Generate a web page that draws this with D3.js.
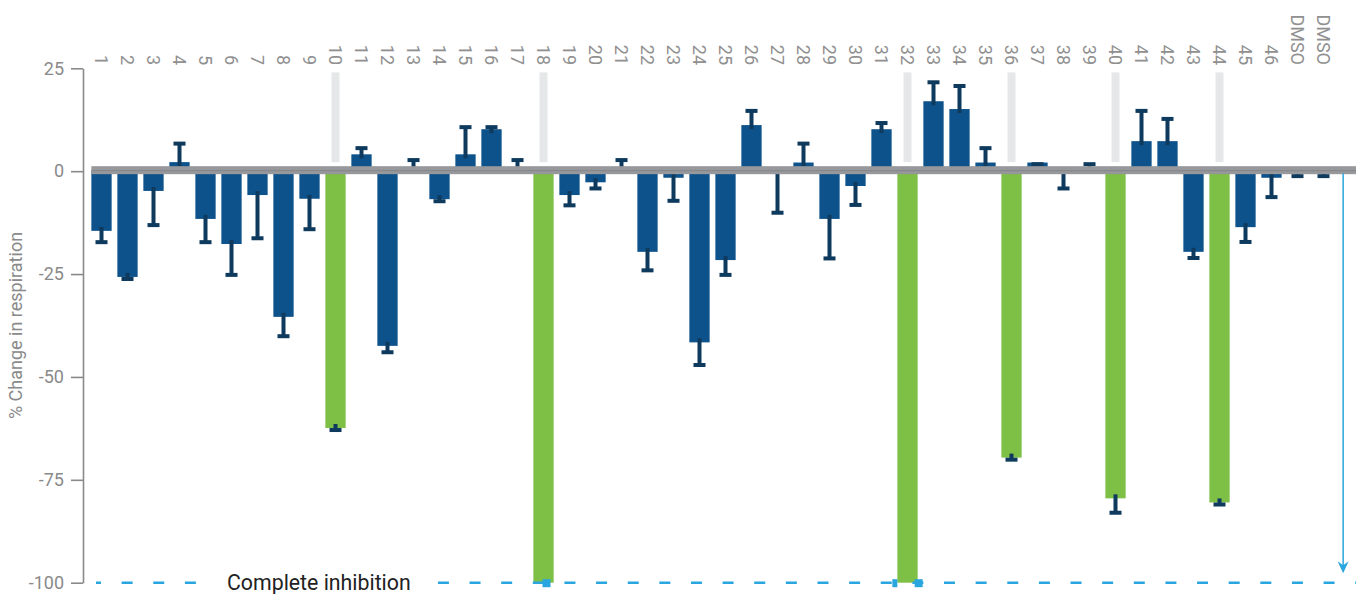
<!DOCTYPE html>
<html>
<head>
<meta charset="utf-8">
<script src="https://cdn.jsdelivr.net/npm/d3@7"></script>
<style>
  body { margin: 0; background: #fff; }
  svg { display: block; font-family: Roboto, "Noto Sans", sans-serif; }
</style>
</head>
<body>
<svg id="chart" width="1356" height="594"></svg>
<script>
// Compounds tested, followed by two vehicle controls
const categories = ["1","2","3","4","5","6","7","8","9","10","11","12","13","14","15","16",
  "17","18","19","20","21","22","23","24","25","26","27","28","29","30","31","32","33","34",
  "35","36","37","38","39","40","41","42","43","44","45","46","DMSO","DMSO"];

// Mean % change in respiration per compound
const values = [-14.5, -25.7, -4.8, 2.2, -11.6, -17.7, -5.8, -35.4, -6.7, -62.4,
  4.1, -42.45, 0, -6.8, 4.1, 10.2, 0, -100, -5.8, -2.7,
  0, -19.6, -1.6, -41.6, -21.6, 11.2, 0, 2.1, -11.6, -3.6,
  10.2, -100, 17.0, 15.1, 2.1, -69.6, 2.1, 0, 0, -79.5,
  7.3, 7.3, -19.6, -80.5, -13.6, -1.6, 0, 0];

// Error bar extent (signed, from the mean to the cap); null = no error bar
const errors = [-2.75, -0.5, -8.3, 4.5, -5.65, -7.5, -10.5, -4.7, -7.4, -0.5,
  1.5, -1.55, 2.7, -0.5, 6.6, 0.5, 2.7, null, -2.5, -1.5,
  2.7, -4.5, -5.6, -5.5, -3.6, 3.45, -10.1, 4.6, -9.6, -4.6,
  1.5, null, 4.6, 5.6, 3.5, -0.5, -0.4, -4.2, 1.7, -3.5,
  7.35, 5.4, -1.5, -0.5, -3.6, -4.7, -1.2, -1.2];

// Hits: compounds with strong inhibition
const hits = ["10", "18", "32", "36", "40", "44"];

const yTicks = [25, 0, -25, -50, -75, -100];
const yTitle = "% Change in respiration";
const thresholdValue = -100;
const thresholdLabel = "Complete inhibition";

const COLORS = {
  bar: "#0d528b",
  hit: "#7dc045",
  error: "#0e3a5e",
  zero: "#97989b",
  zeroLine: "#87888b",
  ghost: "#e6e7e8",
  axis: "#8a8a8a",
  tickText: "#8a8a8a",
  catText: "#909090",
  guide: "#29a6df",
  label: "#222222"
};

const svg = d3.select("#chart");

const y = d3.scaleLinear().domain([-100, 25]).range([582.7, 68.3]);
const x = d3.scaleBand()
  .domain(d3.range(categories.length))
  .range([88.5, 1336.5])
  .paddingInner(0.22)
  .paddingOuter(0.11);
const bw = x.bandwidth();
const cx = i => x(i) + bw / 2;
const isHit = i => hits.includes(categories[i]) && i < 46;

// Light markers above the hit compounds
svg.append("g").selectAll("rect")
  .data(d3.range(categories.length).filter(isHit))
  .join("rect")
  .attr("x", i => cx(i) - 4)
  .attr("width", 8)
  .attr("y", y(24))
  .attr("height", y(2.2) - y(24))
  .attr("fill", COLORS.ghost);

// Bars
svg.append("g").selectAll("rect")
  .data(values)
  .join("rect")
  .attr("x", (d, i) => x(i))
  .attr("width", bw)
  .attr("y", d => y(Math.max(0, d)))
  .attr("height", d => Math.abs(y(d) - y(0)))
  .attr("fill", (d, i) => isHit(i) ? COLORS.hit : COLORS.bar);

// Error bars
const eb = svg.append("g");
values.forEach((v, i) => {
  const e = errors[i];
  if (e === null) return;
  const inset = v < 0 ? -4 : v > 0 ? 4 : 0;
  const yStart = y(v) + inset;
  const yCap = y(v + e);
  eb.append("rect")
    .attr("x", cx(i) - 2)
    .attr("width", 4)
    .attr("y", Math.min(yStart, yCap))
    .attr("height", Math.abs(yCap - yStart))
    .attr("fill", COLORS.error);
  eb.append("rect")
    .attr("x", cx(i) - 6)
    .attr("width", 12)
    .attr("y", yCap - 2)
    .attr("height", 4)
    .attr("fill", COLORS.error);
});

// Zero baseline band
svg.append("rect")
  .attr("x", x(0))
  .attr("width", 1356 - x(0))
  .attr("y", y(0) - 5)
  .attr("height", 8)
  .attr("fill", COLORS.zero);
svg.append("line")
  .attr("x1", x(0)).attr("x2", 1356)
  .attr("y1", y(0) - 0.5).attr("y2", y(0) - 0.5)
  .attr("stroke", COLORS.zeroLine)
  .attr("stroke-width", 1.2);

// Y axis
const yAxis = svg.append("g")
  .attr("transform", "translate(83,0)")
  .call(d3.axisLeft(y).tickValues(yTicks).tickFormat(d => String(d))
    .tickSize(12).tickPadding(7).tickSizeOuter(0));
yAxis.select(".domain").attr("stroke", COLORS.axis).attr("stroke-width", 1.6);
yAxis.selectAll(".tick line").attr("stroke", COLORS.axis).attr("stroke-width", 1.6);
yAxis.selectAll(".tick text")
  .attr("fill", COLORS.tickText)
  .style("font-size", "18px")
  .style("font-family", "Roboto, sans-serif");

svg.append("text")
  .attr("transform", `translate(22,${y(-37.5)}) rotate(-90)`)
  .attr("text-anchor", "middle")
  .attr("fill", COLORS.tickText)
  .style("font-size", "18px")
  .text(yTitle);

// Category labels along the top
svg.append("g").selectAll("text")
  .data(categories)
  .join("text")
  .attr("transform", (d, i) => `translate(${cx(i)},65) rotate(90)`)
  .attr("text-anchor", "end")
  .attr("dy", "0.35em")
  .attr("fill", COLORS.catText)
  .style("font-size", "18px")
  .text(d => d);

// Complete-inhibition guide line
const yThr = y(thresholdValue);
svg.append("line")
  .attr("x1", 96).attr("x2", 1356)
  .attr("y1", yThr).attr("y2", yThr)
  .attr("stroke", COLORS.guide)
  .attr("stroke-width", 2.6)
  .attr("stroke-dasharray", "11 20.63")
  .attr("stroke-dashoffset", 6);

svg.append("rect")
  .attr("x", 205).attr("width", 228)
  .attr("y", yThr - 8).attr("height", 16)
  .attr("fill", "#fff");
svg.append("text")
  .attr("x", 227)
  .attr("y", yThr + 7)
  .attr("fill", COLORS.label)
  .style("font-size", "21.3px")
  .text(thresholdLabel);

// Endpoint handles on the guide at the fully inhibited bars
const i18 = categories.indexOf("18"), i32 = categories.indexOf("32");
const handles = [
  { x: cx(i18) - 1, w: 8 },
  { x: x(i32) - 5, w: 5 },
  { x: x(i32) + bw - 3, w: 8 }
];
svg.append("g").selectAll("rect")
  .data(handles)
  .join("rect")
  .attr("x", d => d.x).attr("width", d => d.w)
  .attr("y", yThr - 3.5).attr("height", 8)
  .attr("fill", COLORS.guide);

// Arrow from baseline down to the guide
const ax = x(categories.length - 1) + bw + 9.5;
svg.append("line")
  .attr("x1", ax).attr("x2", ax)
  .attr("y1", y(0) + 2).attr("y2", yThr - 12)
  .attr("stroke", COLORS.guide)
  .attr("stroke-width", 1.5);
const tipY = yThr - 9.5;
svg.append("path")
  .attr("d", `M${ax},${tipY} L${ax - 5.5},${tipY - 12} L${ax},${tipY - 8} L${ax + 5.5},${tipY - 12} Z`)
  .attr("fill", COLORS.guide);
</script>
</body>
</html>
